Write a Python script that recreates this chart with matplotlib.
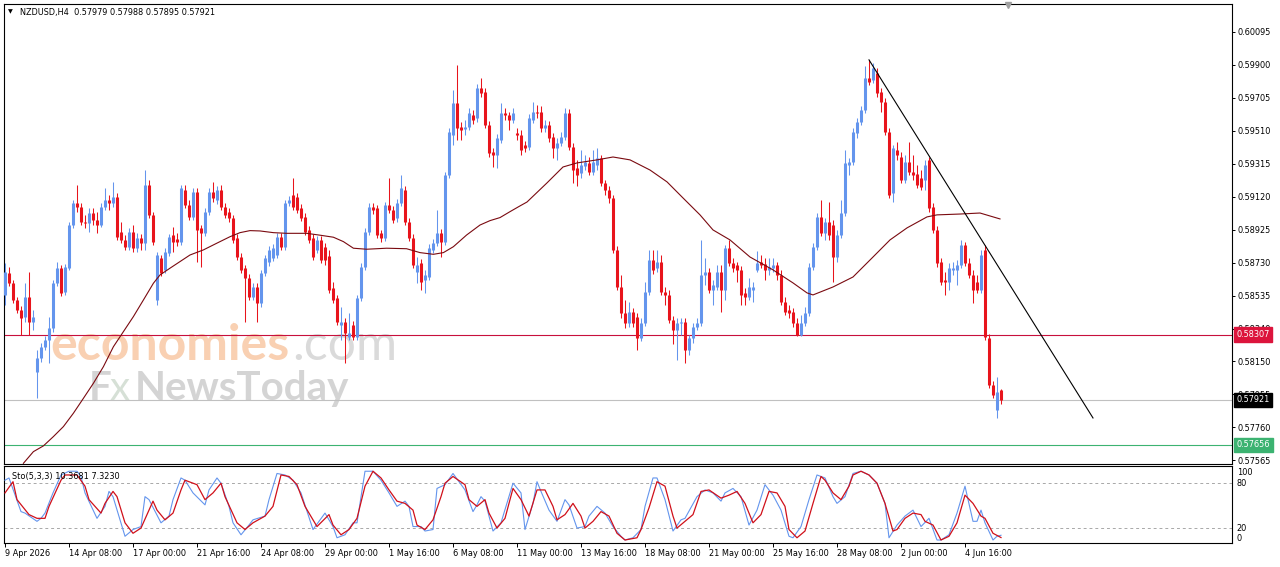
import numpy as np
import matplotlib
matplotlib.use("Agg")
import matplotlib.pyplot as plt
from matplotlib.transforms import blended_transform_factory

# ---- data (prices in points, 1 point = 0.00001) ----
symbol = "NZDUSD,H4"
last_bar = ["0.57979", "0.57988", "0.57895", "0.57921"]

opens = [58541, 58671, 58612, 58511, 58452, 58411, 58529, 58381, 58086, 58169,
         58234, 58275, 58346, 58612, 58700, 58559, 58700, 58954, 59084, 59061,
         58972, 58966, 59025, 58984, 58954, 59061, 59102, 59084, 59120, 58913,
         58866, 58824, 58913, 58819, 58878, 58848, 59191, 59014, 58511, 58759,
         58689, 58789, 58895, 58872, 58854, 59161, 59073, 59002, 59150, 58937,
         58907, 59031, 59150, 59102, 59161, 59061, 59031, 58996, 58878, 58765,
         58700, 58641, 58529, 58588, 58494, 58671, 58736, 58759, 58777, 58884,
         58824, 59084, 59132, 59120, 59055, 59002, 58925, 58878, 58807, 58866,
         58824, 58771, 58582, 58523, 58364, 58381, 58293, 58364, 58293, 58523,
         58706, 58913, 59061, 59055, 58907, 58878, 59073, 59043, 58996, 59084,
         59161, 58972, 58878, 58677, 58730, 58629, 58647, 58807, 58848, 58907,
         58854, 59250, 59486, 59675, 59534, 59522, 59534, 59604, 59587, 59764,
         59740, 59545, 59386, 59368, 59457, 59616, 59604, 59575, 59498, 59486,
         59427, 59415, 59575, 59622, 59622, 59528, 59545, 59474, 59409, 59439,
         59474, 59616, 59415, 59291, 59262, 59303, 59321, 59268, 59309, 59350,
         59203, 59161, 59114, 58807, 58588, 58434, 58375, 58440, 58411, 58287,
         58375, 58559, 58748, 58700, 58736, 58559, 58541, 58393, 58334, 58375,
         58381, 58216, 58287, 58352, 58375, 58659, 58677, 58570, 58588, 58677,
         58570, 58819, 58730, 58718, 58689, 58553, 58529, 58570, 58689, 58736,
         58724, 58689, 58700, 58718, 58659, 58499, 58452, 58440, 58375, 58304,
         58375, 58434, 58706, 58824, 59002, 58907, 58972, 58954, 58765, 58895,
         59025, 59309, 59327, 59498, 59563, 59634, 59823, 59811, 59853, 59740,
         59681, 59504, 59144, 59398, 59356, 59220, 59327, 59268, 59256, 59232,
         59220, 59339, 59061, 58925, 58736, 58629, 58618, 58689, 58689, 58718,
         58836, 58730, 58659, 58618, 58570, 58807, 58287, 58009, 57861, 57979]
highs = [58730, 58706, 58629, 58529, 58476, 58612, 58677, 58452, 58216, 58257,
         58299, 58411, 58629, 58736, 58718, 58724, 58972, 59102, 59191, 59084,
         59014, 59055, 59055, 59031, 59084, 59173, 59132, 59209, 59144, 58972,
         58895, 58937, 58954, 58907, 58901, 59279, 59220, 59031, 58795, 58777,
         58819, 58901, 58943, 58907, 59191, 59191, 59102, 59173, 59173, 58954,
         59055, 59173, 59209, 59185, 59191, 59084, 59055, 59014, 58901, 58789,
         58718, 58665, 58612, 58612, 58689, 58777, 58830, 58842, 58907, 58907,
         59102, 59126, 59232, 59144, 59079, 59025, 58949, 58901, 58889, 58889,
         58848, 58807, 58618, 58541, 58470, 58405, 58434, 58387, 58541, 58730,
         58937, 59084, 59084, 59073, 58925, 59090, 59232, 59067, 59108, 59250,
         59185, 58996, 58901, 58765, 58754, 58689, 58842, 58872, 59043, 58931,
         59268, 59528, 59752, 59900, 59563, 59575, 59646, 59634, 59788, 59823,
         59764, 59569, 59409, 59492, 59675, 59646, 59622, 59646, 59528, 59516,
         59451, 59610, 59681, 59664, 59658, 59575, 59569, 59498, 59469, 59504,
         59646, 59640, 59439, 59339, 59398, 59368, 59356, 59398, 59409, 59368,
         59220, 59185, 59132, 58830, 58659, 58511, 58499, 58464, 58434, 58405,
         58618, 58807, 58807, 58807, 58777, 58588, 58570, 58417, 58405, 58405,
         58405, 58304, 58375, 58405, 58866, 58759, 58700, 58629, 58718, 58718,
         58836, 58866, 58759, 58736, 58712, 58582, 58641, 58618, 58801, 58777,
         58759, 58759, 58759, 58736, 58689, 58529, 58482, 58464, 58405, 58423,
         58470, 58730, 58848, 59025, 59102, 58996, 59090, 58984, 58925, 59102,
         59398, 59350, 59528, 59587, 59658, 59894, 59930, 59912, 59882, 59764,
         59705, 59528, 59427, 59445, 59386, 59368, 59445, 59368, 59309, 59279,
         59339, 59356, 59084, 58949, 58759, 58677, 58730, 58736, 58748, 58866,
         58854, 58759, 58689, 58659, 58807, 58836, 58310, 58033, 58056, 57988]
lows = [58482, 58594, 58494, 58434, 58304, 58381, 58304, 58334, 57932, 58145,
        58216, 58139, 58322, 58594, 58535, 58541, 58689, 58937, 59031, 58954,
        58937, 58913, 58954, 58907, 58943, 59043, 59043, 59061, 58866, 58848,
        58807, 58807, 58795, 58795, 58807, 58807, 58996, 58836, 58482, 58653,
        58671, 58771, 58795, 58830, 58836, 59055, 58984, 58984, 58736, 58706,
        58889, 59014, 59090, 59079, 59043, 58996, 58972, 58848, 58748, 58671,
        58381, 58511, 58511, 58381, 58470, 58653, 58712, 58742, 58759, 58807,
        58807, 59067, 59043, 59025, 58978, 58895, 58848, 58748, 58789, 58730,
        58718, 58553, 58494, 58364, 58275, 58139, 58275, 58275, 58275, 58505,
        58689, 58895, 59019, 58878, 58854, 58860, 59025, 58966, 58972, 59067,
        58954, 58860, 58700, 58612, 58570, 58553, 58629, 58789, 58830, 58765,
        58836, 59232, 59427, 59457, 59457, 59486, 59516, 59551, 59563, 59711,
        59528, 59356, 59297, 59291, 59439, 59575, 59516, 59557, 59457, 59368,
        59386, 59398, 59557, 59587, 59504, 59504, 59445, 59350, 59339, 59421,
        59457, 59398, 59203, 59185, 59232, 59279, 59250, 59250, 59279, 59185,
        59132, 59084, 58789, 58570, 58405, 58346, 58352, 58352, 58216, 58269,
        58358, 58541, 58665, 58677, 58541, 58482, 58375, 58251, 58157, 58304,
        58139, 58186, 58257, 58334, 58358, 58600, 58553, 58482, 58570, 58440,
        58511, 58712, 58677, 58618, 58482, 58482, 58511, 58499, 58677, 58700,
        58629, 58659, 58677, 58629, 58482, 58423, 58405, 58352, 58299, 58299,
        58358, 58417, 58689, 58807, 58889, 58866, 58866, 58618, 58736, 58878,
        59008, 59250, 59309, 59469, 59545, 59616, 59782, 59794, 59711, 59622,
        59486, 59114, 59090, 59339, 59203, 59203, 59250, 59220, 59173, 59161,
        59161, 59031, 58907, 58706, 58600, 58541, 58570, 58659, 58600, 58700,
        58712, 58641, 58494, 58553, 58553, 58275, 57991, 57932, 57814, 57895]
closes = [58677, 58612, 58511, 58452, 58405, 58529, 58381, 58411, 58169, 58234,
          58275, 58346, 58612, 58700, 58553, 58706, 58954, 59084, 59061, 58972,
          58966, 59025, 58984, 58954, 59061, 59102, 59084, 59120, 58884, 58866,
          58824, 58913, 58819, 58878, 58848, 59191, 59014, 58854, 58777, 58671,
          58795, 58884, 58854, 58854, 59173, 59073, 59002, 59150, 58925, 58907,
          59031, 59150, 59114, 59161, 59061, 59014, 58996, 58866, 58765, 58689,
          58641, 58529, 58588, 58494, 58671, 58759, 58807, 58819, 58884, 58824,
          59084, 59102, 59061, 59043, 58996, 58913, 58866, 58765, 58866, 58748,
          58748, 58570, 58511, 58381, 58381, 58316, 58316, 58293, 58523, 58706,
          58913, 59061, 59043, 58895, 58878, 59073, 59043, 58984, 59084, 59173,
          58972, 58878, 58718, 58718, 58618, 58659, 58819, 58848, 58907, 58854,
          59250, 59504, 59675, 59528, 59516, 59534, 59616, 59575, 59764, 59734,
          59545, 59380, 59368, 59469, 59616, 59604, 59575, 59616, 59486, 59398,
          59409, 59587, 59622, 59616, 59528, 59545, 59469, 59409, 59439, 59474,
          59616, 59415, 59279, 59250, 59309, 59327, 59268, 59327, 59350, 59203,
          59161, 59114, 58807, 58588, 58434, 58375, 58440, 58375, 58287, 58375,
          58559, 58748, 58689, 58736, 58559, 58541, 58393, 58334, 58375, 58381,
          58216, 58287, 58352, 58375, 58659, 58677, 58570, 58600, 58677, 58570,
          58819, 58730, 58700, 58689, 58541, 58529, 58588, 58588, 58730, 58718,
          58689, 58706, 58718, 58659, 58499, 58440, 58434, 58375, 58304, 58375,
          58434, 58706, 58824, 59002, 58907, 58972, 58895, 58765, 58895, 59025,
          59321, 59327, 59504, 59563, 59634, 59823, 59800, 59882, 59734, 59681,
          59504, 59132, 59409, 59368, 59220, 59327, 59268, 59250, 59191, 59179,
          59309, 59055, 58925, 58730, 58618, 58618, 58700, 58700, 58718, 58836,
          58730, 58659, 58570, 58570, 58777, 58293, 58009, 57950, 57968, 57921]

# moving average (bar index, points)
ma_idx = [4.6, 7.1, 9.6, 12.1, 14.6, 17.1, 19.6, 22.1, 24.6, 27.1, 29.6, 32.1,
          34.6, 37.1, 38.75, 41.25, 43.75, 46.25, 49.6, 52.9, 56.25, 58.75, 61.25,
          63.75, 67.1, 70.4, 75.4, 78.75, 82.1, 84.6, 87.1, 90.4, 95.4, 100.4,
          103.75, 107.1, 109.6, 112.1, 115.4, 118.75, 121.25, 123.75, 126.25,
          128.75, 130.5, 135.5, 139.5, 143, 148, 152, 156.25, 161.25, 165.5,
          169.5, 173.75, 177, 181.25, 186.25, 192, 197, 200.5, 202, 207, 212,
          217, 221.25, 225.5, 230.5, 233, 238.75, 243.75, 248.75]
ma_val = [57546, 57615, 57649, 57704, 57763, 57842, 57930, 58019, 58117, 58235,
          58324, 58413, 58511, 58610, 58659, 58699, 58738, 58777, 58807, 58846,
          58885, 58909, 58921, 58919, 58909, 58905, 58905, 58894, 58882, 58856,
          58817, 58811, 58817, 58814, 58791, 58781, 58791, 58826, 58895, 58954,
          58980, 58998, 59033, 59067, 59090, 59203, 59297, 59321, 59339, 59356,
          59339, 59279, 59209, 59114, 59014, 58925, 58866, 58765, 58689, 58612,
          58553, 58541, 58588, 58647, 58765, 58866, 58937, 59002, 59014, 59019,
          59025, 58990]

# stochastic (5,3,3) turning points
sto_k_idx = [0, 1, 4, 5, 8, 9, 10, 12, 14, 16, 18, 19, 20, 23, 25, 26, 27, 30, 32,
             34, 35, 36, 39, 41, 42, 44, 45, 47, 50, 51, 53, 54, 56, 57, 59, 61,
             62, 65, 66, 68, 70, 72, 74, 77, 80, 82, 83, 85, 87, 88, 90, 92, 94,
             96, 98, 100, 101, 102, 104, 105, 107, 108, 110, 112, 115, 117, 118,
             119, 120, 122, 124, 127, 129, 130, 132, 133, 134, 136, 138, 140, 141,
             143, 145, 146, 148, 150, 152, 154, 155, 157, 159, 160, 162, 163, 165,
             167, 169, 170, 173, 175, 177, 179, 180, 182, 184, 186, 188, 190, 192,
             194, 196, 197, 199, 201, 203, 205, 207, 208, 210, 212, 214, 216, 218,
             220, 221, 223, 225, 227, 229, 231, 233, 234, 236, 238, 240, 242, 243,
             244, 245, 247, 248, 249]
sto_k_val = [84, 87, 42, 40, 29, 33, 40, 67, 91, 96, 96, 89, 67, 33, 49, 69, 62, 9,
             18, 22, 62, 58, 27, 36, 58, 87, 84, 67, 51, 71, 87, 80, 49, 27, 11,
             24, 31, 36, 58, 93, 91, 84, 67, 18, 40, 22, 7, 11, 27, 27, 96, 96, 84,
             67, 49, 56, 49, 22, 22, 16, 18, 73, 78, 93, 71, 42, 51, 62, 56, 16, 27,
             80, 67, 18, 53, 82, 69, 44, 29, 58, 51, 20, 22, 36, 49, 40, 22, 9, 4,
             7, 18, 49, 87, 87, 58, 16, 31, 33, 62, 71, 67, 56, 67, 73, 62, 24, 44,
             78, 64, 44, 9, 7, 22, 58, 91, 87, 62, 53, 62, 93, 96, 91, 80, 53, 7, 24,
             36, 44, 22, 33, 4, 4, 11, 40, 76, 29, 29, 44, 27, 4, 9, 10.37]
sto_d_idx = [0, 2, 3, 6, 8, 10, 11, 14, 15, 18, 20, 21, 24, 25, 27, 28, 30, 32, 34,
             37, 38, 40, 42, 44, 45, 48, 50, 52, 54, 55, 58, 60, 62, 65, 67, 69, 71,
             73, 75, 78, 81, 82, 84, 86, 88, 90, 92, 94, 96, 98, 100, 102, 103, 105,
             107, 109, 110, 112, 115, 116, 118, 120, 121, 123, 125, 127, 129, 131,
             133, 135, 137, 138, 140, 142, 144, 145, 147, 149, 151, 153, 155, 158,
             159, 161, 163, 165, 167, 168, 170, 172, 174, 176, 179, 181, 183, 185,
             187, 189, 191, 193, 195, 196, 198, 200, 202, 204, 205, 207, 209, 211,
             212, 214, 216, 218, 220, 222, 223, 225, 227, 229, 230, 232, 234, 236,
             238, 240, 242, 244, 245, 247, 249]
sto_d_val = [67, 82, 58, 38, 33, 33, 49, 84, 91, 91, 76, 58, 40, 53, 69, 62, 27, 13,
             20, 56, 44, 31, 40, 71, 84, 78, 58, 67, 80, 62, 27, 18, 27, 36, 49, 91,
             89, 78, 49, 22, 38, 24, 11, 18, 33, 76, 96, 87, 71, 56, 53, 44, 24, 18,
             31, 62, 80, 89, 78, 58, 49, 58, 40, 20, 33, 73, 58, 36, 71, 71, 49, 31,
             38, 53, 36, 20, 29, 42, 36, 13, 4, 7, 18, 47, 82, 76, 36, 20, 29, 38,
             69, 71, 60, 64, 69, 53, 27, 38, 69, 67, 49, 18, 7, 16, 53, 89, 84, 67,
             58, 76, 91, 96, 91, 80, 53, 16, 18, 33, 40, 38, 29, 24, 4, 9, 27, 64,
             53, 36, 33, 13, 7.32]

trend_idx = [216, 272]
trend_val = [59930, 57814]

level_red = 0.58307
level_last = 0.57921
level_green = 0.57656

price_ticks = ["0.60095", "0.59900", "0.59705", "0.59510", "0.59315", "0.59120",
               "0.58925", "0.58730", "0.58535", "0.58340", "0.58150", "0.57955",
               "0.57760", "0.57565"]
date_idx = [0, 16, 32, 48, 64, 80, 96, 112, 128, 144, 160, 176, 192, 208, 224, 240]
date_labels = ["9 Apr 2026", "14 Apr 08:00", "17 Apr 00:00", "21 Apr 16:00",
               "24 Apr 08:00", "29 Apr 00:00", "1 May 16:00", "6 May 08:00",
               "11 May 00:00", "13 May 16:00", "18 May 08:00", "21 May 00:00",
               "25 May 16:00", "28 May 08:00", "2 Jun 00:00", "4 Jun 16:00"]

# ---- styling ----
BULL = "#6495ED"
BEAR = "#E8141C"
MA_COL = "#7A0A10"
FS = 5.9
plt.rcParams["font.family"] = ["DejaVu Sans"]

o = np.array(opens) / 1e5
h = np.array(highs) / 1e5
l = np.array(lows) / 1e5
c = np.array(closes) / 1e5
x = np.arange(len(o))
up = c >= o
cols = np.where(up, BULL, BEAR)

W, H = 1280, 567
fig = plt.figure(figsize=(W / 100, H / 100), dpi=100, facecolor="white")
ax = fig.add_axes([4 / W, 1 - 464 / H, 1228 / W, 460 / H])
ax2 = fig.add_axes([4 / W, 1 - 543 / H, 1228 / W, 77 / H])

for a in (ax, ax2):
    a.set_xlim(-0.25, 306.75)
    for s in a.spines.values():
        s.set_linewidth(0.8)
        s.set_color("black")

ax.set_ylim(0.57542, 0.60260)
ax2.set_ylim(0, 103)

# watermark (behind everything)
ax.text(50 / W, 1 - 360 / H, "economies", transform=fig.transFigure, family="Lato",
        fontsize=36, fontweight="bold", color="#F9D0B2", zorder=0.3)
ax.text(292 / W, 1 - 360 / H, ".com", transform=fig.transFigure, family="Lato",
        fontsize=36, color="#DADADA", zorder=0.3)
ax.text(89 / W, 1 - 400 / H, "F", transform=fig.transFigure, family="Lato",
        fontsize=29, fontweight="bold", color="#D4D4D4", zorder=0.3)
ax.text(110 / W, 1 - 400 / H, "x", transform=fig.transFigure, family="Lato",
        fontsize=29, color="#D6E0D6", zorder=0.3)
ax.text(135 / W, 1 - 400 / H, "NewsToday", transform=fig.transFigure, family="Lato",
        fontsize=29, fontweight="bold", color="#D4D4D4", zorder=0.3)

# horizontal levels
ax.axhline(level_red, color="#C8103C", lw=0.8, zorder=1.5)
ax.axhline(level_last, color="#C0C0C0", lw=0.8, zorder=1.5)
ax.axhline(level_green, color="#3CB371", lw=0.8, zorder=1.5)

# candles
ax.vlines(x, l, h, colors=cols, lw=0.75, zorder=3)
body_lo = np.minimum(o, c)
body_hi = np.maximum(o, c)
body_hi = np.maximum(body_hi, body_lo + 0.00004)
ax.vlines(x, body_lo, body_hi, colors=cols, lw=2.2, zorder=3.2, capstyle="butt")

# moving average and trend line
ax.plot(ma_idx, np.array(ma_val) / 1e5, color=MA_COL, lw=0.8, zorder=4,
        solid_joinstyle="round")
ax.plot(trend_idx, np.array(trend_val) / 1e5, color="black", lw=0.8, zorder=4)

# price axis
ax.yaxis.tick_right()
ax.set_yticks([float(t) for t in price_ticks])
ax.set_yticklabels(price_ticks)
ax.tick_params(axis="y", direction="out", length=2.5, width=0.7, pad=1.5, labelsize=FS)
ax.set_xticks([])

bt = blended_transform_factory(ax.transAxes, ax.transData)
for lvl, bg in ((level_red, "#DC143C"), (level_last, "black"), (level_green, "#3CB371")):
    ax.text(1.0036, lvl, f"{lvl:.5f}", transform=bt, ha="left", va="center",
            fontsize=FS, color="white", zorder=6, clip_on=False,
            bbox=dict(boxstyle="square,pad=0.32", facecolor=bg, edgecolor=bg))

# header
fig.text(8 / W, 1 - 12 / H, "\u25BC", fontsize=4.5, va="center", ha="left")
fig.text(20 / W, 1 - 12 / H, symbol + "  " + " ".join(last_bar),
         fontsize=FS, va="center", ha="left")
ax.plot([1008 / W], [1 - 5 / H], marker="v", color="#A0A0A0", ms=5,
        transform=fig.transFigure, clip_on=False, zorder=6)

# stochastic panel
ax2.axhline(80, color="#A8A8A8", lw=0.7, ls=(0, (3, 3)))
ax2.axhline(20, color="#A8A8A8", lw=0.7, ls=(0, (3, 3)))
ax2.plot(sto_k_idx, sto_k_val, color=BULL, lw=0.8, zorder=3)
ax2.plot(sto_d_idx, sto_d_val, color="#D0101A", lw=0.9, zorder=3.5)
ax2.text(8 / 1228, 0.86, "Sto(5,3,3) 10.3681 7.3230", transform=ax2.transAxes,
         fontsize=FS, va="center", ha="left", zorder=5)
bt2 = blended_transform_factory(ax2.transAxes, ax2.transData)
ax2.text(1.004, 100, "100", transform=bt2, fontsize=FS, va="top", ha="left", clip_on=False)
ax2.text(1.004, 80, "80", transform=bt2, fontsize=FS, va="center", ha="left", clip_on=False)
ax2.text(1.004, 20, "20", transform=bt2, fontsize=FS, va="center", ha="left", clip_on=False)
ax2.text(1.004, 0, "0", transform=bt2, fontsize=FS, va="bottom", ha="left", clip_on=False)
ax2.set_yticks([])
ax2.set_xticks(date_idx)
ax2.set_xticklabels(date_labels)
ax2.tick_params(axis="x", direction="out", length=3, width=0.7, pad=1.5, labelsize=FS)
for lab in ax2.get_xticklabels():
    lab.set_ha("left")

fig.savefig("out.png", dpi=100, facecolor="white")
